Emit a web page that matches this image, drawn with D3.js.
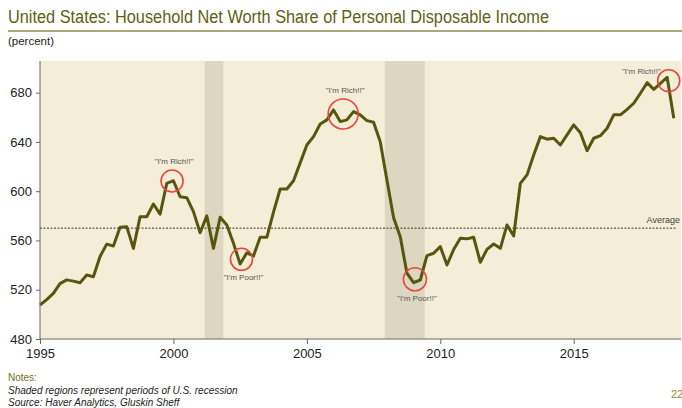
<!DOCTYPE html>
<html>
<head>
<meta charset="utf-8">
<script src="https://cdn.jsdelivr.net/npm/d3@7"></script>
<style>
  body { margin: 0; background: #fff; }
  svg { display: block; font-family: "Liberation Sans", Arial, sans-serif; }
</style>
</head>
<body>
<script>
// quarterly values, 1995Q1 .. 2018Q4
var startYear = 1995
var values = [
  507.6, 512, 517, 525,
  528, 527, 525.7, 532,
  530.6, 547, 557, 555.5,
  570.7, 571.2, 553.6, 579.3,
  579.3, 589.6, 581.3, 606.4,
  608.5, 595.5, 594.7, 583.4,
  566.3, 580, 553.6, 578.8,
  572.6, 557.7, 540.9, 550,
  547.4, 562.6, 562.6, 583,
  601.8, 601.8, 608.5, 623,
  637.5, 644.3, 654.6, 657.9,
  666, 656.5, 657.9, 664.6,
  662, 657.3, 656, 640.2,
  609.1, 578.5, 563.1, 533.4,
  525.7, 527.9, 547.7, 549.6,
  555, 540.1, 552.6, 561.8,
  561.3, 562.6, 542.3, 552.8,
  557.1, 553.6, 572.6, 563.6,
  606.4, 613.2, 629.4, 644.3,
  642.2, 643, 637.5, 645.7,
  653.8, 647.5, 632.9, 643,
  645.1, 651.1, 662, 662,
  666.5, 671.4, 679.5, 688.1,
  682.7, 687.6, 692.5, 659.2
]
var recessions = [[2001.17, 2001.87], [2007.92, 2009.42]]
var average = 570
var yTicks = [480, 520, 560, 600, 640, 680]
var xTicks = [1995, 2000, 2005, 2010, 2015]
var callouts = [
  {t: 1999.95, v: 608.3, label: '"I\'m Rich!!"', side: "above"},
  {t: 2002.55, v: 544.7, label: '"I\'m Poor!!"', side: "below"},
  {t: 2006.36, v: 662.7, label: '"I\'m Rich!!"', side: "above"},
  {t: 2009.05, v: 528.5, label: '"I\'m Poor!!"', side: "below"},
  {t: 2018.56, v: 689.7, label: '"I\'m Rich!!"', side: "left"}
]
var circleR = [11, 11, 15, 11.5, 11]

var data = values.map(function(v, i) { return {t: startYear + i / 4, v: v} })

var W = 682, H = 408
var margin = {top: 61, right: 1, bottom: 69, left: 40},
    width = W - margin.left - margin.right,
    height = H - margin.top - margin.bottom

var svg = d3.select("body").append("svg")
    .attr("width", W)
    .attr("height", H)

// title block
svg.append("text")
    .attr("x", 8).attr("y", 23)
    .attr("fill", "#5f5f14")
    .attr("font-size", 18)
    .attr("textLength", 541)
    .attr("lengthAdjust", "spacingAndGlyphs")
    .text("United States: Household Net Worth Share of Personal Disposable Income")

svg.append("line")
    .attr("x1", 8).attr("x2", W)
    .attr("y1", 31).attr("y2", 31)
    .attr("stroke", "#8e8e48")
    .attr("stroke-width", 1.5)

svg.append("text")
    .attr("x", 8).attr("y", 45)
    .attr("fill", "#222")
    .attr("font-size", 10)
    .attr("textLength", 46)
    .attr("lengthAdjust", "spacingAndGlyphs")
    .text("(percent)")

var g = svg.append("g")
    .attr("transform", "translate(" + margin.left + "," + margin.top + ")")

var x = d3.scaleLinear()
    .domain([1995, 2019.02])
    .range([0, width])

var y = d3.scaleLinear()
    .domain([480, 705.7])
    .range([height, 0])

g.append("rect")
    .attr("width", width)
    .attr("height", height)
    .attr("fill", "#f4eed9")

g.selectAll(".recession")
    .data(recessions)
    .enter().append("rect")
    .attr("class", "recession")
    .attr("x", function(d) { return x(d[0]) })
    .attr("width", function(d) { return x(d[1]) - x(d[0]) })
    .attr("y", 0)
    .attr("height", height)
    .attr("fill", "#ddd7c1")

// average line
g.append("line")
    .attr("x1", 0).attr("x2", x(2018.85))
    .attr("y1", y(average)).attr("y2", y(average))
    .attr("stroke", "#333")
    .attr("stroke-width", 1)
    .attr("stroke-dasharray", "2,1.5")

g.append("text")
    .attr("x", x(2018.98)).attr("y", y(average) - 5)
    .attr("text-anchor", "end")
    .attr("fill", "#444")
    .attr("font-size", 9)
    .text("Average")

var line = d3.line()
    .x(function(d) { return x(d.t) })
    .y(function(d) { return y(d.v) })

g.append("path")
    .datum(data)
    .attr("fill", "none")
    .attr("stroke", "#56560f")
    .attr("stroke-width", 3)
    .attr("stroke-linejoin", "round")
    .attr("d", line)

// callouts
var co = g.selectAll(".callout")
    .data(callouts)
    .enter().append("g")
    .attr("class", "callout")

co.append("circle")
    .attr("cx", function(d) { return x(d.t) })
    .attr("cy", function(d) { return y(d.v) })
    .attr("r", function(d, i) { return circleR[i] })
    .attr("fill", "none")
    .attr("stroke", "#e8453c")
    .attr("stroke-width", 1.6)

co.append("text")
    .attr("x", function(d) { return d.side == "left" ? x(d.t) - 8 : x(d.t) + 2 })
    .attr("y", function(d, i) {
      if (d.side == "above") return y(d.v) - circleR[i] - 6
      if (d.side == "below") return y(d.v) + circleR[i] + 10
      return y(d.v) - 7
    })
    .attr("text-anchor", function(d) { return d.side == "left" ? "end" : "middle" })
    .attr("fill", "#555")
    .attr("font-size", 8)
    .text(function(d) { return d.label })

// axes
var yAxis = d3.axisLeft(y).tickValues(yTicks).tickSize(4).tickPadding(4)
var xAxis = d3.axisBottom(x).tickValues(xTicks).tickFormat(d3.format("d")).tickSize(5).tickPadding(5)

var ya = g.append("g").call(yAxis)
var xa = g.append("g").attr("transform", "translate(0," + height + ")").call(xAxis)

ya.select(".domain").attr("d", "M0,0V" + height).attr("stroke", "#666")
xa.select(".domain").attr("d", "M0,0H" + width).attr("stroke", "#666")
g.selectAll(".tick line").attr("stroke", "#666")
g.selectAll(".tick text")
    .attr("fill", "#222")
    .attr("font-size", 13)
    .attr("font-family", "Liberation Sans, Arial, sans-serif")

// notes
var notes = svg.append("g").attr("font-size", 10)
notes.append("text").attr("x", 8).attr("y", 381).attr("fill", "#6f6f22").text("Notes:")
notes.append("text").attr("x", 8).attr("y", 394).attr("fill", "#222").attr("font-style", "italic")
    .text("Shaded regions represent periods of U.S. recession")
notes.append("text").attr("x", 8).attr("y", 406).attr("fill", "#222").attr("font-style", "italic")
    .text("Source: Haver Analytics, Gluskin Sheff")
svg.append("text").attr("x", 671).attr("y", 398).attr("fill", "#8b8b3a").attr("font-size", 11).text("22")
</script>
</body>
</html>
